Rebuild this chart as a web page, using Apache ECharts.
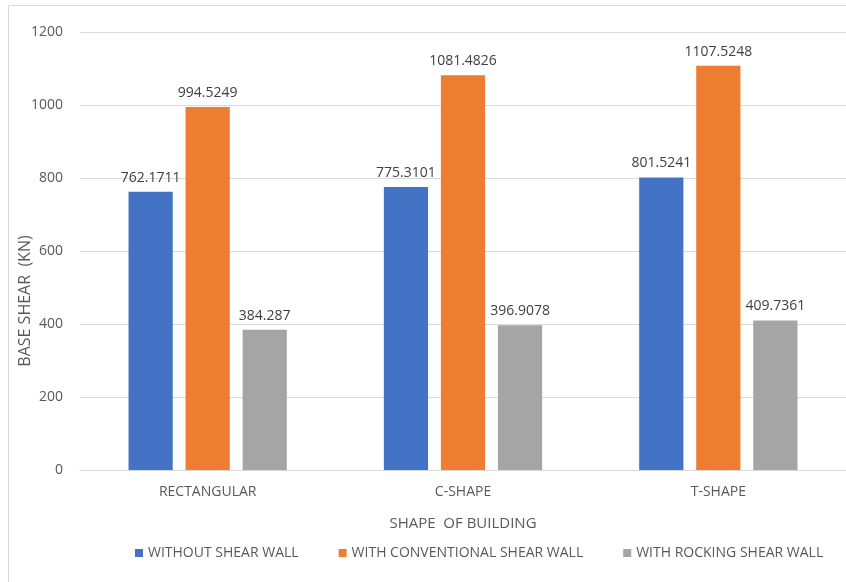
<!DOCTYPE html>
<html>
<head>
<meta charset="utf-8">
<script src="https://cdn.jsdelivr.net/npm/echarts@6/dist/echarts.min.js"></script>
<style>
  html, body { margin: 0; padding: 0; background: #ffffff; }
  #chart { width: 846px; height: 582px; }
</style>
</head>
<body>
<div id="chart"></div>
<script>
// Building shapes on the category axis
const shapes = ['RECTANGULAR', 'C-SHAPE', 'T-SHAPE'];

// Base shear (kN) for each shear-wall configuration
const withoutShearWall = [762.1711, 775.3101, 801.5241];
const conventionalShearWall = [994.5249, 1081.4826, 1107.5248];
const rockingShearWall = [384.287, 396.9078, 409.7361];

const seriesNames = ['WITHOUT SHEAR WALL', 'WITH CONVENTIONAL SHEAR WALL', 'WITH ROCKING SHEAR WALL'];
const seriesColors = ['#4472C4', '#ED7D31', '#A5A5A5'];
const seriesData = [withoutShearWall, conventionalShearWall, rockingShearWall];

const FONT = '"Open Sans", "Noto Sans", sans-serif';

const chart = echarts.init(document.getElementById('chart'), null, { renderer: 'canvas' });

chart.setOption({
  animation: false,
  backgroundColor: '#ffffff',
  textStyle: { fontFamily: FONT },
  graphic: [
    {
      type: 'rect',
      shape: { x: 8.5, y: 5.5, width: 900, height: 700 },
      style: { fill: 'none', stroke: '#d9d9d9', lineWidth: 1 },
      z: -1
    },
    {
      type: 'text',
      x: 25,
      y: 301,
      rotation: Math.PI / 2,
      style: {
        text: 'BASE SHEAR  (KN)',
        fill: '#595959',
        font: '16px ' + FONT,
        align: 'center',
        verticalAlign: 'middle'
      }
    }
  ],
  grid: { left: 80, right: -14, top: 32, bottom: 112 },
  legend: {
    left: 130,
    top: 541,
    itemWidth: 8,
    itemHeight: 8,
    itemGap: 40,
    icon: 'rect',
    textStyle: { color: '#595959', fontSize: 14, fontFamily: FONT },
    data: seriesNames
  },
  xAxis: {
    type: 'category',
    data: shapes,
    name: 'SHAPE  OF BUILDING',
    nameLocation: 'middle',
    nameGap: 46,
    nameTextStyle: { color: '#595959', fontSize: 15, fontFamily: FONT },
    axisLine: { lineStyle: { color: '#d9d9d9' } },
    axisTick: { show: false },
    axisLabel: { color: '#595959', fontSize: 14, margin: 15, fontFamily: FONT }
  },
  yAxis: {
    type: 'value',
    min: 0,
    max: 1200,
    interval: 200,
    axisLine: { show: false },
    axisTick: { show: false },
    axisLabel: {
      color: '#595959',
      fontSize: 14,
      margin: 17,
      fontFamily: FONT,
      formatter: (v) => String(v)
    },
    splitLine: { lineStyle: { color: '#d9d9d9' } }
  },
  series: seriesNames.map((name, i) => ({
    name: name,
    type: 'bar',
    data: seriesData[i],
    itemStyle: { color: seriesColors[i] },
    barGap: '29%',
    barCategoryGap: '38%',
    label: {
      show: true,
      position: 'top',
      distance: 7,
      color: '#404040',
      fontSize: 14,
      fontFamily: FONT
    }
  }))
});
</script>
</body>
</html>
